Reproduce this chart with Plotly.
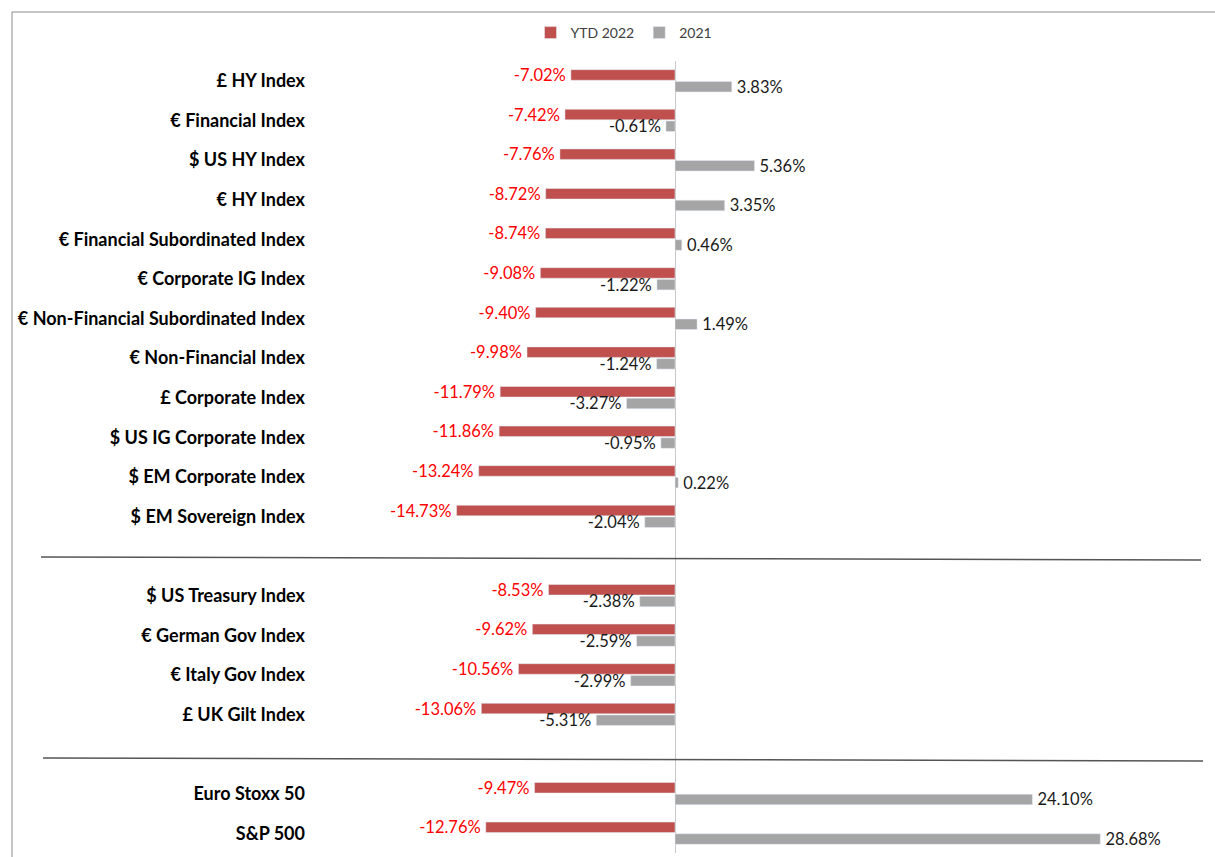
import plotly.graph_objects as go

categories = [
    "£ HY Index", "€ Financial Index", "$ US HY Index", "€ HY Index",
    "€ Financial Subordinated Index", "€ Corporate IG Index",
    "€ Non-Financial Subordinated Index", "€ Non-Financial Index",
    "£ Corporate Index", "$ US IG Corporate Index", "$ EM Corporate Index",
    "$ EM Sovereign Index", " ",
    "$ US Treasury Index", "€ German Gov Index", "€ Italy Gov Index", "£ UK Gilt Index",
    "  ",
    "Euro Stoxx 50", "S&P 500",
]
ytd_2022 = [-7.02, -7.42, -7.76, -8.72, -8.74, -9.08, -9.40, -9.98, -11.79, -11.86,
            -13.24, -14.73, None, -8.53, -9.62, -10.56, -13.06, None, -9.47, -12.76]
y2021 = [3.83, -0.61, 5.36, 3.35, 0.46, -1.22, 1.49, -1.24, -3.27, -0.95,
         0.22, -2.04, None, -2.38, -2.59, -2.99, -5.31, None, 24.10, 28.68]

THIN = "\u2009"

def fmt(vals):
    out = []
    for v in vals:
        if v is None:
            out.append("")
        elif v < 0:
            out.append(f"{v:.2f}%" + THIN)
        else:
            out.append(THIN + f"{v:.2f}%")
    return out

W, H = 1215, 857
ML, MR, MT, MB = 312, 14, 61, 4
PW, PH = W - ML - MR, H - MT - MB

def px_x(px):
    return (px - ML) / PW

def px_y(py):
    return (H - MB - py) / PH

fig = go.Figure()
fig.add_trace(go.Bar(
    y=categories, x=ytd_2022, orientation="h", name="YTD 2022",
    marker=dict(color="#C0504D"), text=fmt(ytd_2022), textposition="outside",
    textfont=dict(color="#FF0000", size=16.5, family="Lato"), cliponaxis=False,
    constraintext="none",
))
fig.add_trace(go.Bar(
    y=categories, x=y2021, orientation="h", name="2021",
    marker=dict(color="#A5A5A5"), text=fmt(y2021), textposition="outside",
    textfont=dict(color="#1a1a1a", size=16.5, family="Lato"), cliponaxis=False,
    constraintext="none",
))

line_col = "#555555"
shapes = [
    # outer border (top and left)
    dict(type="line", xref="paper", yref="paper", x0=px_x(12), x1=px_x(W + 2),
         y0=px_y(12), y1=px_y(12), line=dict(color="#8c8c8c", width=1)),
    dict(type="line", xref="paper", yref="paper", x0=px_x(12), x1=px_x(12),
         y0=px_y(12), y1=px_y(H + 2), line=dict(color="#8c8c8c", width=1)),
    # group separators
    dict(type="line", xref="paper", yref="paper", x0=px_x(41), x1=px_x(1201),
         y0=px_y(557), y1=px_y(560), line=dict(color=line_col, width=1.5)),
    dict(type="line", xref="paper", yref="paper", x0=px_x(43), x1=px_x(1203),
         y0=px_y(758), y1=px_y(761), line=dict(color=line_col, width=1.5)),
]

scale = 14.83
fig.update_layout(
    width=W, height=H,
    margin=dict(l=ML, r=MR, t=MT, b=MB),
    paper_bgcolor="white", plot_bgcolor="white",
    barmode="group", bargap=0.41, bargroupgap=0.1,
    font=dict(family="Lato", color="#000000"),
    showlegend=True,
    legend=dict(orientation="h", xref="container", yref="container",
                x=624 / W, xanchor="center", y=1 - 33 / H, yanchor="middle",
                font=dict(size=14, color="#404040", family="Lato"),
                itemwidth=30, traceorder="normal"),
    shapes=shapes,
    xaxis=dict(range=[-(675 - ML) / scale, (W - MR - 675) / scale],
               showgrid=False, showticklabels=False, ticks="",
               zeroline=True, zerolinecolor="#c8c8c8", zerolinewidth=1,
               showline=False, fixedrange=True),
    yaxis=dict(autorange="reversed", type="category",
               categoryorder="array", categoryarray=categories,
               showgrid=False, ticks="", showline=False,
               tickfont=dict(size=18, family="Lato", color="#000000", weight="bold"),
               ticklabelstandoff=6, fixedrange=True),
)

fig.write_html("out.html")
